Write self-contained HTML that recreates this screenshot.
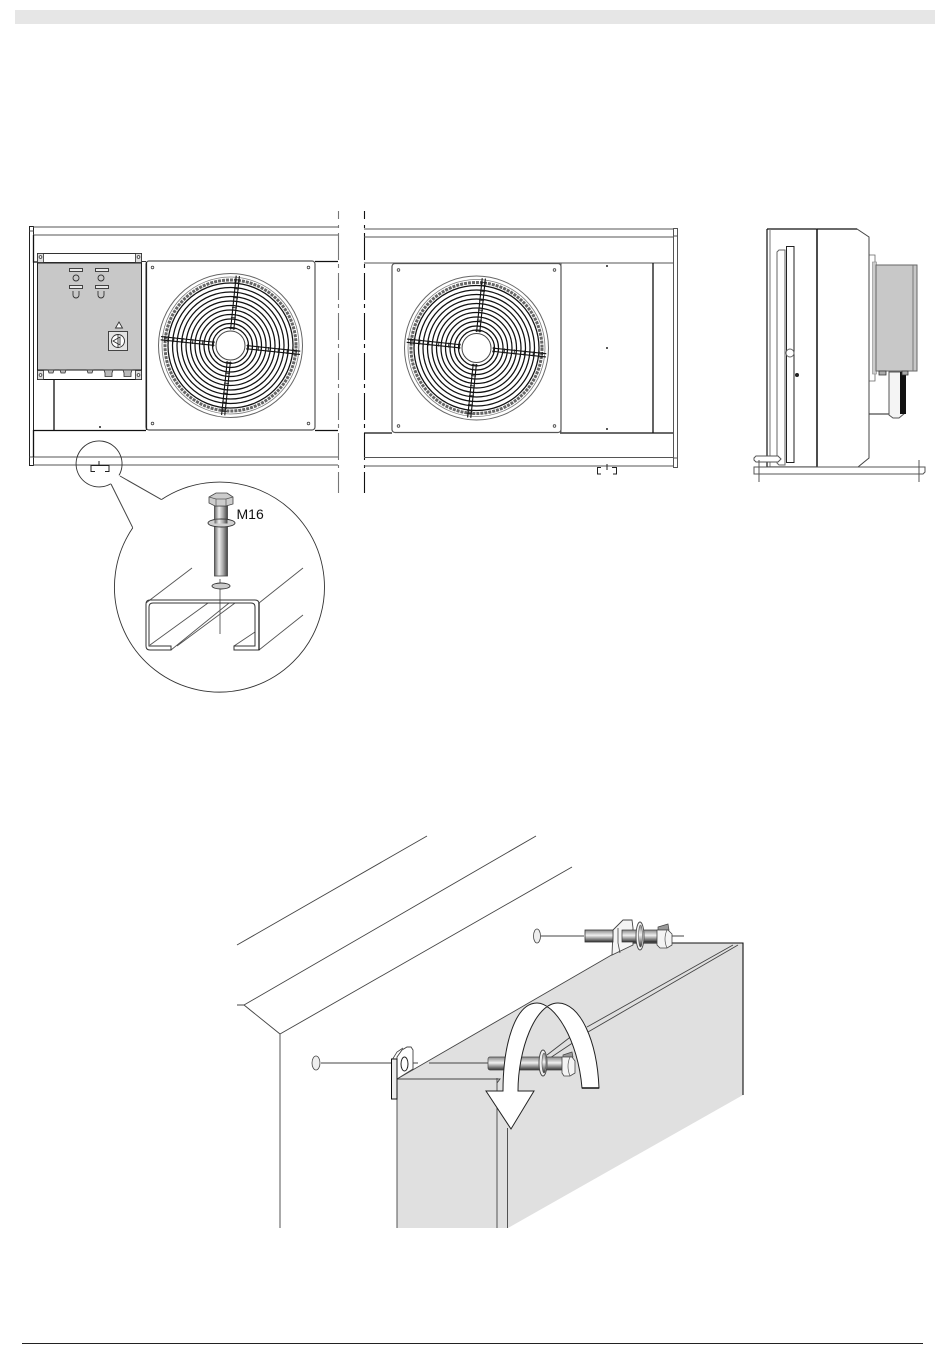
<!DOCTYPE html>
<html><head><meta charset="utf-8"><title>Diagram</title>
<style>html,body{margin:0;padding:0;background:#fff}svg{display:block}</style></head>
<body>
<svg width="950" height="1370" viewBox="0 0 950 1370" xmlns="http://www.w3.org/2000/svg" font-family="'Liberation Sans',sans-serif">
<defs>
<linearGradient id="h" x1="0" x2="1" y1="0" y2="0"><stop offset="0" stop-color="#666"/><stop offset=".35" stop-color="#eee"/><stop offset=".65" stop-color="#aaa"/><stop offset="1" stop-color="#444"/></linearGradient>
<linearGradient id="v" x1="0" x2="0" y1="0" y2="1"><stop offset="0" stop-color="#888"/><stop offset=".45" stop-color="#f0f0f0"/><stop offset="1" stop-color="#333"/></linearGradient>
<g id="spoke"><path d="M-1.6-16V-70M1.600-16V-70" stroke="#111" stroke-width="1.100" fill="none"/><path d="M-3-17H3M-3-66H3M-3-63H3M-2.500-28H2.500M-2.500-38H2.500M-2.500-48H2.500M-2.500-57H2.500" stroke="#222" stroke-width=".9" fill="none"/></g>
<g id="fan" fill="none">
<rect x="-84.500" y="-84.500" width="169" height="169" rx="3" fill="#fff" stroke="#555" stroke-width="1.200"/>
<g fill="#fff" stroke="#444" stroke-width=".8"><circle cx="-78" cy="-78" r="1.300"/><circle cx="78" cy="-78" r="1.300"/><circle cx="-78" cy="78" r="1.300"/><circle cx="78" cy="78" r="1.300"/></g>
<circle r="72" stroke="#666" stroke-width="1"/>
<circle r="68.500" stroke="#777" stroke-width=".8"/>
<circle r="65.500" stroke="#666" stroke-width="3" stroke-dasharray="3 1"/>
<g stroke="#111" stroke-width="1.250">
<circle r="62.500"/><circle r="58"/><circle r="53.500"/><circle r="49"/><circle r="44.500"/><circle r="40"/><circle r="35.500"/><circle r="31"/><circle r="26.500"/><circle r="22"/><circle r="18"/>
</g>
<circle r="14.500" fill="#fff" stroke="#444" stroke-width="1"/>
<use href="#spoke" transform="rotate(6)"/>
<use href="#spoke" transform="rotate(96)"/>
<use href="#spoke" transform="rotate(186)"/>
<use href="#spoke" transform="rotate(276)"/>
</g>
</defs>

<rect width="950" height="1370" fill="#fff"/>
<rect x="15" y="10" width="920" height="14" fill="#e6e6e6"/>
<rect x="22" y="1343" width="901" height="1" fill="#222"/>

<!-- Front view left -->
<g fill="none" stroke="#555" stroke-width="1">
<rect x="29.500" y="226.500" width="4" height="239" stroke="#222"/>
<path d="M33 227H338M33 235H338M33 457H338M33 465H338"/>
<path d="M29.500 231H33.500M29.500 457H33.500"/>
</g>
<path d="M33.500 235V262H38M33.500 430V457M33 430.500H146M315 430.500H338M315 261.500H338M54 379V430" fill="none" stroke="#111" stroke-width="1.300"/>
<path d="M146 261.500H37" stroke="#333" fill="none"/>

<!-- control box -->
<rect x="37.500" y="253.500" width="104" height="9" fill="#fff" stroke="#333"/>
<rect x="37.500" y="263" width="104" height="107" fill="#c8c8c8" stroke="#222"/>
<rect x="37.500" y="370" width="104" height="9.500" fill="#fff" stroke="#111"/>
<g fill="#ddd" stroke="#333" stroke-width=".8">
<rect x="37.500" y="253.500" width="6" height="9"/><rect x="135.500" y="253.500" width="6" height="9"/>
<rect x="37.500" y="370.500" width="6" height="9"/><rect x="135.500" y="370.500" width="6" height="9"/>
</g>
<g fill="#fff" stroke="#333" stroke-width=".8"><circle cx="40.500" cy="257" r="1.400"/><circle cx="138.500" cy="257" r="1.400"/><circle cx="40.500" cy="375" r="1.400"/><circle cx="138.500" cy="375" r="1.400"/></g>
<g fill="none" stroke="#333" stroke-width=".9">
<rect x="69.500" y="268.500" width="13" height="3" fill="#e8e8e8"/><rect x="95.500" y="268.500" width="13" height="3" fill="#e8e8e8"/>
<rect x="69.500" y="285.500" width="13" height="3" fill="#e8e8e8"/><rect x="95.500" y="285.500" width="13" height="3" fill="#e8e8e8"/>
<circle cx="76" cy="278" r="3"/><circle cx="101" cy="278" r="3"/>
<path d="M73 291V295A3 3 0 0 0 79 295V291M98 291V295A3 3 0 0 0 104 295V291"/>
<path d="M119 322L122.500 328H115.500Z" fill="#fff"/>
<rect x="108.500" y="331.500" width="19" height="19" fill="#e4e4e4"/>
<circle cx="118" cy="341" r="6.500" fill="#fff"/>
<path d="M113 341L120 337V345ZM118 334V348"/>
</g>
<g fill="#bbb" stroke="#333" stroke-width=".8">
<path d="M48 370H54L53 373H49ZM60 370H66L65 373H61ZM87 370H93L92 373H88ZM104 370H113L112 373V376.500H105V373ZM123 370H132L131 373V376.500H124V373Z"/>
</g>

<use href="#fan" x="230.500" y="345.500"/>
<use href="#fan" x="476.500" y="348"/>
<path d="M146.500 262V430" stroke="#222" stroke-width="1.200" fill="none"/>

<!-- break lines -->
<path id="br" d="M338.500 211V219M338.500 225V228M338.500 233V260M338.500 264V268M338.500 273V300M338.500 304V308M338.500 313V340M338.500 344V348M338.500 353V380M338.500 384V388M338.500 393V420M338.500 424V428M338.500 433V460M338.500 465V468M338.500 472V493" stroke="#777" stroke-width="1.100" fill="none"/>
<path d="M364.500 211V219M364.500 225V228M364.500 233V260M364.500 264V268M364.500 273V300M364.500 304V308M364.500 313V340M364.500 344V348M364.500 353V380M364.500 384V388M364.500 393V420M364.500 424V428M364.500 433V460M364.500 465V468M364.500 472V493" stroke="#111" stroke-width="1.100" fill="none"/>

<!-- Front view right -->
<g fill="none" stroke="#555" stroke-width="1">
<path d="M364 229H673M364 237H673M364 263H673M364 457.500H673M364 466H673"/>
<rect x="673.500" y="228.500" width="4" height="239"/>
<path d="M673.500 236H677.500M673.500 458H677.500M673.500 237V263M673.500 433V458"/>
</g>
<path d="M364 433H392M560 433H673M653 263V433" fill="none" stroke="#111" stroke-width="1.300"/>
<path d="M561 263V433" stroke="#555" fill="none"/>
<g fill="#222"><circle cx="607" cy="266" r="1"/><circle cx="607" cy="348" r="1"/><circle cx="607" cy="429" r="1"/><circle cx="100" cy="427" r="1"/></g>
<path d="M601 467.500H597.500V474H601M612 467.500H616.500V474H613M607 464V470" fill="none" stroke="#222"/>

<!-- Side view -->
<path d="M869 255H875V381H869Z" fill="#fff" stroke="#666" stroke-width=".8"/>
<rect x="872.500" y="262" width="4" height="112" fill="#ccc" stroke="#888" stroke-width=".6"/>
<rect x="876" y="265" width="41" height="106" fill="#c8c8c8" stroke="#666"/>
<path d="M913 265V371" stroke="#777"/>
<path d="M869 381V414H889" fill="none" stroke="#222"/>
<path d="M889 372H905V413L899 418H893L889 415Z" fill="#f4f4f4" stroke="#555"/>
<rect x="900" y="372" width="6" height="42" fill="#111"/>
<path d="M879 371H886V375H879ZM902 371H908V375H902Z" fill="#aaa" stroke="#333" stroke-width=".8"/>
<path d="M767 229V467H817M767 229H817" fill="none" stroke="#111" stroke-width="1.200"/>
<path d="M770 229V467" stroke="#777"/>
<path d="M817 229H857L869 237V458L858 467H817Z" fill="#fff" stroke="#444"/>
<path d="M817 229V467" stroke="#111" stroke-width="1.500"/>
<path d="M817 229H857" stroke="#111" stroke-width="1.200"/>
<path d="M777 252L779 250H785V465H779L777 463Z" fill="#fff" stroke="#666"/>
<rect x="786.500" y="246.500" width="7.500" height="216" fill="#fff" stroke="#222"/>
<circle cx="790" cy="353" r="4" fill="#fff" stroke="#666"/>
<circle cx="797" cy="375" r="2" fill="#222"/>
<path d="M754 467H925V472L923 474H754Z" fill="#fff" stroke="#555"/>
<path d="M756 456H778L781 459L778 462H756L754 460V458Z" fill="#fff" stroke="#555"/>
<path d="M759 460V482M919 460V482" stroke="#555"/>

<!-- Detail -->
<path d="M119 475.400A23 23 0 1 0 110.800 483.700" fill="none" stroke="#333" stroke-width=".9"/>
<path d="M95 471.500H91V465.500H109V471.500H105M99 461V466" fill="none" stroke="#222"/>
<path d="M120 476L161.400 499.600M111 484L132.800 527.800" stroke="#444" fill="none"/>
<path d="M161.400 499.600A105 105 0 1 1 132.800 527.800" fill="#fff" stroke="#333" stroke-width=".9"/>

<g fill="none" stroke="#555" stroke-width=".9">
<path d="M146 603L192 568M259 603L303 568M259 650L303 615M150 645L208 603M171 650L229 603M177 646L235 603M234 646L255 632M220 579V634"/>
</g>
<path d="M146 604Q146 600 150 600H255Q259 600 259 604V650H234V646H255V607Q255 603 251 603H153Q149 603 149 607V646H171V650H150Q146 650 146 646Z" fill="none" stroke="#333" stroke-width="1"/>
<path d="M259 603V650" stroke="#111" stroke-width="1.200"/>

<!-- M16 bolt -->
<rect x="214.500" y="506" width="13" height="70" fill="url(#h)" stroke="#444" stroke-width=".8"/>
<path d="M209 497L216 493H227L233 497V504L226 506H215L209 503Z" fill="#ccc" stroke="#444" stroke-width=".8"/>
<path d="M209 497L216 499H226L233 497M216 499V506M226 499V506" fill="none" stroke="#555" stroke-width=".7"/>
<ellipse cx="221.500" cy="523" rx="13.500" ry="4" fill="#d0d0d0" stroke="#333" stroke-width=".9"/>
<rect x="214.500" y="519.500" width="13" height="4" fill="url(#h)"/>
<ellipse cx="221" cy="586" rx="9" ry="3" fill="#ccc" stroke="#333" stroke-width=".9"/>
<text x="236.500" y="519" font-size="14" fill="#111">M16</text>

<!-- Isometric -->
<path d="M397 1079L633 943H743V1095L508 1228H397Z" fill="#e0e0e0"/>
<g fill="none" stroke="#444" stroke-width=".9">
<path d="M237 945L427 836M244 1005L536 836M280 1034L572 867M237 1005H244L280 1034V1228"/>
<path d="M397 1079V1228M497 1078V1228M507.500 1128V1228M397 1079H500L497 1083"/>
<path d="M397 1079L615 953M733 945L587 1027M738 945L588 1032"/>
<path d="M547 1055L573 1035M547 1060L574 1042"/>
<path d="M321 1063H393M399 1063H418M429 1063H488"/>
<path d="M541 936H584M662 936H684"/>
</g>
<path d="M633 943H743V1095" fill="none" stroke="#111" stroke-width="1.100"/>
<ellipse cx="316" cy="1063" rx="4" ry="7" fill="#eee" stroke="#444" stroke-width=".8"/>
<ellipse cx="537" cy="936" rx="3.500" ry="7" fill="#eee" stroke="#444" stroke-width=".8"/>

<!-- lower lug -->
<path d="M397 1079V1057L402 1050L407 1047H411L413 1050V1069Z" fill="#fff" stroke="#444" stroke-width=".9"/>
<path d="M392 1060L397 1052L403 1048" fill="none" stroke="#444" stroke-width=".8"/>
<path d="M391.500 1059H397V1099H391.500Z" fill="#eee" stroke="#111" stroke-width="1"/>
<ellipse cx="404.500" cy="1064" rx="3.500" ry="7" fill="#fff" stroke="#222"/>

<!-- lower bolt -->
<rect x="488" y="1057" width="76" height="13" rx="2" fill="url(#v)" stroke="#444" stroke-width=".7"/>
<ellipse cx="543" cy="1063" rx="4" ry="13" fill="#eee" stroke="#444" stroke-width=".9"/>
<ellipse cx="544" cy="1063" rx="2" ry="10" fill="url(#v)" stroke="#555" stroke-width=".6"/>
<path d="M563 1055L572 1052L573 1057H563Z" fill="#999" stroke="#444" stroke-width=".7"/>
<path d="M562 1057H572L575 1061V1073L570 1076H564L562 1073Z" fill="#f4f4f4" stroke="#444" stroke-width=".8"/>
<path d="M570 1057Q566 1066 570 1076" fill="none" stroke="#555" stroke-width=".7"/>

<!-- upper lug + bolt -->
<path d="M612 955L613 930L623 920H632L633 928V945Z" fill="#f4f4f4" stroke="#444" stroke-width=".9"/>
<path d="M618 928V943L620 953" fill="none" stroke="#444" stroke-width=".8"/>
<rect x="585" y="930" width="28" height="12" fill="url(#v)" stroke="#333" stroke-width=".8"/>
<rect x="622" y="930" width="38" height="12" fill="url(#v)" stroke="#333" stroke-width=".7"/>
<ellipse cx="640" cy="936" rx="4" ry="14" fill="#f2f2f2" stroke="#444" stroke-width=".9"/>
<ellipse cx="640.500" cy="936" rx="2" ry="11" fill="url(#v)" stroke="#555" stroke-width=".6"/>
<path d="M658 927L668 924L669 930H658Z" fill="#999" stroke="#444" stroke-width=".7"/>
<path d="M657 930H668L672 934V945L667 948H660L657 945Z" fill="#f4f4f4" stroke="#444" stroke-width=".8"/>
<path d="M667 930Q663 939 667 948" fill="none" stroke="#555" stroke-width=".7"/>

<!-- curved arrow -->
<path d="M503 1091C503 1045 515 1003 537 1003C555 1003 578 1040 582 1088H599C597 1040 580 1003 558 1003C535 1003 518 1050 518 1091H534L511 1129L486 1091Z" fill="#fff" stroke="#222" stroke-width="1"/>
<path d="M582 1088H599" stroke="#111" stroke-width="1.600"/>
</svg>
</body></html>
